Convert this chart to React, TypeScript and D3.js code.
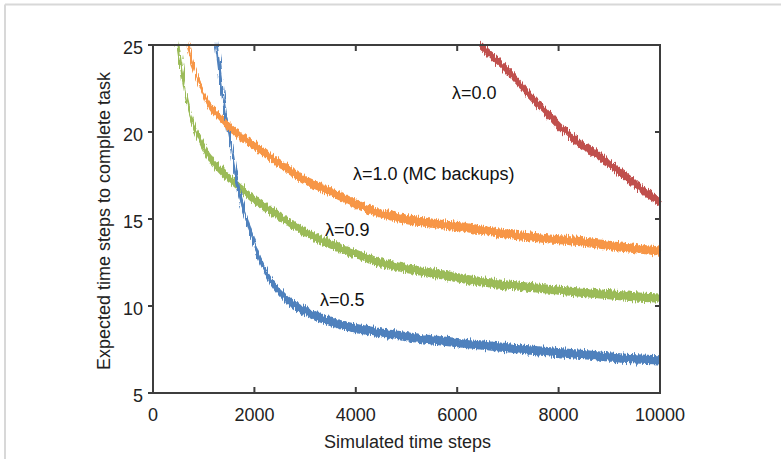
import React from 'react';
import * as d3 from 'd3';

const W = 781;
const H = 459;

// Axis ticks
const xTicks = [0, 2000, 4000, 6000, 8000, 10000];
const yTicks = [5, 10, 15, 20, 25];

// λ=0.5 (blue)
const stepsL05 = [1250, 1400, 1550, 1700, 1850, 2045, 2270, 2600, 3000, 3500, 4500, 5500, 6500, 7500, 8500, 9250, 10000];
const valsL05 = [25, 21.6, 19.0, 16.6, 15.0, 13.2, 11.7, 10.5, 9.7, 9.1, 8.45, 8.05, 7.75, 7.45, 7.2, 7.0, 6.9];

// λ=0.9 (green)
const stepsL09 = [490, 565, 675, 790, 930, 1060, 1300, 1520, 2050, 2640, 2900, 3550, 4080, 4480, 5500, 6450, 7500, 8420, 9200, 10000];
const valsL09 = [25, 23.6, 21.8, 20.5, 19.5, 18.8, 17.9, 17.3, 16.0, 14.9, 14.4, 13.5, 12.9, 12.5, 11.9, 11.4, 11.05, 10.8, 10.6, 10.45];

// λ=1.0 (orange)
const stepsL10 = [690, 830, 1060, 1300, 1500, 1910, 2370, 2900, 3550, 4220, 4870, 5520, 6190, 6710, 7500, 8420, 9200, 10000];
const valsL10 = [25, 23.5, 21.8, 20.9, 20.3, 19.4, 18.45, 17.4, 16.5, 15.6, 15.05, 14.75, 14.5, 14.25, 13.95, 13.7, 13.4, 13.15];

// λ=0.0 (red)
const stepsL00 = [6450, 6780, 7100, 7430, 7770, 8090, 8420, 8760, 9080, 9410, 9740, 10000];
const valsL00 = [25, 24.1, 23.2, 22.1, 21.1, 20.1, 19.35, 18.7, 18.0, 17.25, 16.5, 16.0];

const seriesNames = ['λ=0.9', 'λ=0.5', 'λ=1.0 (MC backups)', 'λ=0.0'];
const seriesSteps = [stepsL09, stepsL05, stepsL10, stepsL00];
const seriesVals = [valsL09, valsL05, valsL10, valsL00];
const seriesColors = ['#9BBB59', '#4F81BD', '#F79646', '#C0504D'];
// label anchors in data units (step, value)
const labelSteps = [3392, 3294, 3945, 5897];
const labelVals = [14.02, 10.0, 17.27, 21.87];

const FONT = "'Liberation Sans', Arial, Helvetica, sans-serif";

export default function App() {
  const x = d3.scaleLinear().domain([0, 10000]).range([153, 660]);
  const y = d3.scaleLinear().domain([5, 25]).range([393, 45]);
  const half = 4.6;

  const axisColor = '#3d3d3d';
  const textColor = '#222';

  return (
    <svg
      width={W}
      height={H}
      style={{ position: 'absolute', left: 0, top: 0, display: 'block' }}
      fontFamily={FONT}
    >
      <defs>
        <clipPath id="plotClip">
          <rect x={x(0)} y={y(25) - 6} width={x(10000) - x(0) + 4} height={y(5) - y(25) + 6} />
        </clipPath>
        <filter id="jag" filterUnits="userSpaceOnUse" x={0} y={0} width={W} height={H}>
          <feTurbulence type="fractalNoise" baseFrequency="0.9 0.04" numOctaves={2} seed={7} result="n" />
          <feDisplacementMap in="SourceGraphic" in2="n" scale={7} xChannelSelector="R" yChannelSelector="G" />
        </filter>
      </defs>
      <rect x={0} y={0} width={W} height={H} fill="#fff" />
      <line x1={5} y1={4.5} x2={W} y2={4.5} stroke="#d8d8d8" strokeWidth={2} />
      <line x1={5} y1={4.5} x2={5} y2={H} stroke="#d8d8d8" strokeWidth={2} />

      <g clipPath="url(#plotClip)">
        <g filter="url(#jag)">
          {seriesSteps.map((xs, si) => {
            const ys = seriesVals[si];
            const idx = xs.map((_, i) => i);
            const area = d3
              .area<number>()
              .x((i) => x(xs[i]))
              .y0((i) => y(ys[i]) - half)
              .y1((i) => y(ys[i]) + half)
              .curve(d3.curveMonotoneX);
            const line = d3
              .line<number>()
              .x((i) => x(xs[i]))
              .y((i) => y(ys[i]))
              .curve(d3.curveMonotoneX);
            return (
              <g key={si}>
                <path d={area(idx) || ''} fill={seriesColors[si]} />
                <path d={line(idx) || ''} fill="none" stroke={seriesColors[si]} strokeWidth={3} />
              </g>
            );
          })}
        </g>
      </g>

      {/* frame */}
      <rect
        x={x(0)}
        y={y(25)}
        width={x(10000) - x(0)}
        height={y(5) - y(25)}
        fill="none"
        stroke={axisColor}
        strokeWidth={2}
      />
      {/* left ticks outward */}
      {yTicks.map((t) => (
        <line key={'yl' + t} x1={x(0) - 5} x2={x(0)} y1={y(t)} y2={y(t)} stroke={axisColor} strokeWidth={2} />
      ))}
      {/* right ticks inward */}
      {yTicks.map((t) => (
        <line key={'yr' + t} x1={x(10000) - 5} x2={x(10000)} y1={y(t)} y2={y(t)} stroke={axisColor} strokeWidth={2} />
      ))}
      {/* bottom ticks inward */}
      {xTicks.map((t) => (
        <line key={'xb' + t} x1={x(t)} x2={x(t)} y1={y(5)} y2={y(5) - 6} stroke={axisColor} strokeWidth={2} />
      ))}
      {/* top ticks inward */}
      {xTicks.map((t) => (
        <line key={'xt' + t} x1={x(t)} x2={x(t)} y1={y(25)} y2={y(25) + 6} stroke={axisColor} strokeWidth={2} />
      ))}

      {/* tick labels */}
      {yTicks.map((t) => (
        <text key={'ylab' + t} x={143} y={y(t) + 8.5} textAnchor="end" fontSize={18} fill={textColor}>
          {t}
        </text>
      ))}
      {xTicks.map((t) => (
        <text key={'xlab' + t} x={x(t)} y={421} textAnchor="middle" fontSize={18} fill={textColor}>
          {t}
        </text>
      ))}

      {/* axis titles */}
      <text x={(x(0) + x(10000)) / 2 + 1} y={448} textAnchor="middle" fontSize={18} fill={textColor}>
        Simulated time steps
      </text>
      <text
        transform={`translate(110, ${(y(5) + y(25)) / 2 + 2}) rotate(-90)`}
        textAnchor="middle"
        fontSize={18}
        fill={textColor}
      >
        Expected time steps to complete task
      </text>

      {/* series labels */}
      {seriesNames.map((n, i) => (
        <text key={'sl' + i} x={x(labelSteps[i])} y={y(labelVals[i])} fontSize={18} fill="#111">
          {n}
        </text>
      ))}
    </svg>
  );
}
